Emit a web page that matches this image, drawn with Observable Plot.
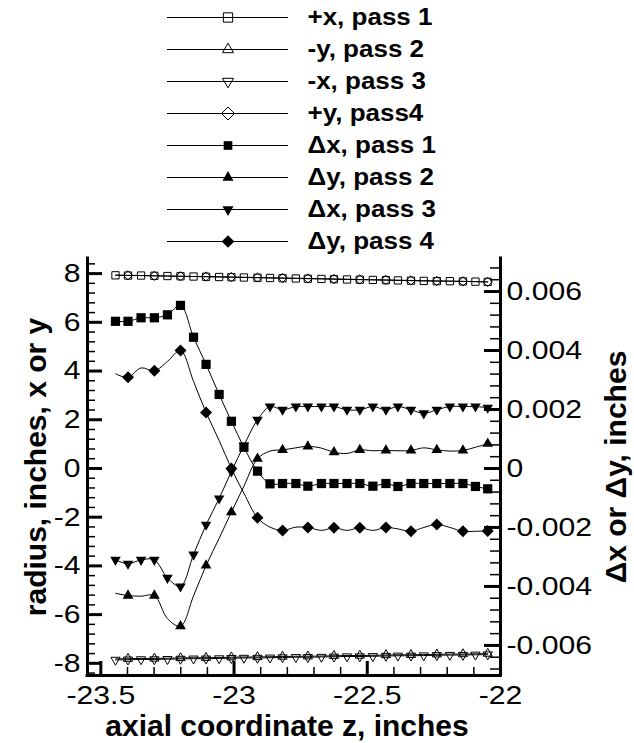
<!DOCTYPE html>
<html>
<head>
<meta charset="utf-8">
<script src="https://cdn.jsdelivr.net/npm/d3@7"></script>
<script src="https://cdn.jsdelivr.net/npm/@observablehq/plot@0.6"></script>
<style>
  html, body { margin: 0; padding: 0; background: #fff; }
  #chart { width: 634px; height: 743px; position: relative; background: #fff; }
  #chart svg { display: block; }
</style>
</head>
<body>
<div id="chart"></div>
<script>
// Axial stations (inches)
const z = [-23.445, -23.398, -23.349, -23.299, -23.250, -23.201, -23.152, -23.105, -23.056, -23.010,
           -22.963, -22.912, -22.865, -22.818, -22.768, -22.723, -22.672, -22.625, -22.576, -22.528,
           -22.479, -22.430, -22.385, -22.336, -22.288, -22.239, -22.190, -22.141, -22.094, -22.048];

// Measured radius (inches), left axis
const plusX1 = [7.93, 7.92, 7.92, 7.91, 7.90, 7.89, 7.88, 7.87, 7.86, 7.85,
                7.84, 7.83, 7.82, 7.81, 7.80, 7.79, 7.78, 7.77, 7.76, 7.75,
                7.74, 7.73, 7.72, 7.71, 7.70, 7.69, 7.69, 7.68, 7.67, 7.66];
const minusY2 = [-7.82, -7.81, -7.80, -7.80, -7.79, -7.78, -7.77, -7.77, -7.76, -7.75,
                 -7.74, -7.74, -7.73, -7.72, -7.71, -7.71, -7.70, -7.69, -7.68, -7.68,
                 -7.67, -7.66, -7.65, -7.65, -7.64, -7.63, -7.62, -7.62, -7.61, -7.60];
const minusX3 = [-7.86, -7.85, -7.84, -7.84, -7.83, -7.82, -7.81, -7.81, -7.80, -7.79,
                 -7.78, -7.78, -7.77, -7.76, -7.75, -7.75, -7.74, -7.73, -7.72, -7.72,
                 -7.71, -7.70, -7.69, -7.69, -7.68, -7.67, -7.66, -7.66, -7.65, -7.64];
const plusY4 = [7.94, 7.93, 7.92, 7.91, 7.90, 7.89, 7.88, 7.88, 7.87, 7.86,
                7.85, 7.84, 7.83, 7.82, 7.81, 7.80, 7.79, 7.78, 7.77, 7.76,
                7.75, 7.74, 7.73, 7.72, 7.71, 7.70, 7.69, 7.68, 7.67, 7.66];

// Deviations (inches), right axis
const dx1 = [0.00499, 0.00499, 0.00511, 0.00511, 0.00521, 0.00553, 0.00445, 0.00353, 0.00251, 0.00160,
             0.00072, -0.00009, -0.00052, -0.00051, -0.00051, -0.00060, -0.00051, -0.00051, -0.00051, -0.00051,
             -0.00060, -0.00051, -0.00061, -0.00051, -0.00051, -0.00051, -0.00051, -0.00051, -0.00061, -0.00069];
const dy2 = [-0.00423, -0.00431, -0.00433, -0.00431, -0.00509, -0.00535, -0.00432, -0.00329, -0.00237, -0.00148,
             -0.00060, 0.00033, 0.00059, 0.00063, 0.00070, 0.00075, 0.00069, 0.00055, 0.00051, 0.00063,
             0.00060, 0.00061, 0.00060, 0.00061, 0.00070, 0.00063, 0.00059, 0.00061, 0.00072, 0.00084];
const dx3 = [-0.00310, -0.00323, -0.00310, -0.00310, -0.00371, -0.00400, -0.00292, -0.00191, -0.00102, -0.00010,
             0.00078, 0.00165, 0.00210, 0.00199, 0.00210, 0.00210, 0.00210, 0.00210, 0.00199, 0.00199,
             0.00210, 0.00199, 0.00210, 0.00199, 0.00187, 0.00199, 0.00210, 0.00210, 0.00210, 0.00206];
const dy4 = [0.00321, 0.00309, 0.00341, 0.00331, 0.00363, 0.00400, 0.00295, 0.00190, 0.00095, 0.00000,
             -0.00084, -0.00167, -0.00199, -0.00210, -0.00199, -0.00200, -0.00210, -0.00201, -0.00210, -0.00201,
             -0.00210, -0.00200, -0.00205, -0.00213, -0.00200, -0.00190, -0.00200, -0.00213, -0.00213, -0.00212];

const names = ["+x, pass 1", "-y, pass 2", "-x, pass 3", "+y, pass4",
               "\u0394x, pass 1", "\u0394y, pass 2", "\u0394x, pass 3", "\u0394y, pass 4"];

// Tick values
const xMajor = [-23.5, -23, -22.5, -22];
const leftMajor = [-8, -6, -4, -2, 0, 2, 4, 6, 8];
const rightMajor = [-0.006, -0.004, -0.002, 0, 0.002, 0.004, 0.006];

// Downward-pointing triangle, mirror of d3.symbolTriangle
const triangleDown = {
  draw(context, size) {
    const y = -Math.sqrt(size / (Math.sqrt(3) * 3));
    context.moveTo(0, -y * 2);
    context.lineTo(-Math.sqrt(3) * y, y);
    context.lineTo(Math.sqrt(3) * y, y);
    context.closePath();
  }
};

// Scale extents: left axis in inches of radius, right axis in inches of deviation
const xDomain = [-23.55, -22];
const yDomain = [-8.5, 8.62];
const rDomain = [-0.00702, 0.00712];
const toLeft = (d) => yDomain[0] + (d - rDomain[0]) / (rDomain[1] - rDomain[0]) * (yDomain[1] - yDomain[0]);

const series = [
  {name: names[0], values: plusX1, axis: "left",  symbol: "square",   filled: false, every: 1, r: 4.1, lr: 5.25},
  {name: names[1], values: minusY2, axis: "left", symbol: "triangle", filled: false, every: 2, r: 3.4, lr: 4.1},
  {name: names[2], values: minusX3, axis: "left", symbol: triangleDown, filled: false, every: 1, r: 3.4, lr: 4.1},
  {name: names[3], values: plusY4, axis: "left",  symbol: "diamond2", filled: false, every: 2, r: 4.2, lr: 5.85},
  {name: names[4], values: dx1, axis: "right",    symbol: "square",   filled: true,  every: 1, r: 5.2, lr: 4.9},
  {name: names[5], values: dy2, axis: "right",    symbol: "triangle", filled: true,  every: 2, r: 4.0, lr: 4.1},
  {name: names[6], values: dx3, axis: "right",    symbol: triangleDown, filled: true, every: 1, r: 3.9, lr: 4.1},
  {name: names[7], values: dy4, axis: "right",    symbol: "diamond2", filled: true,  every: 2, r: 5.4, lr: 5.7}
];

const font = "'Liberation Sans', Arial, Helvetica, sans-serif";

function dotStyle(s, r) {
  return s.filled
    ? {symbol: s.symbol, r, fill: "black", stroke: "none"}
    : {symbol: s.symbol, r, fill: "none", stroke: "black", strokeWidth: 1};
}

// Widen glyphs of the given text groups horizontally about each text's anchor
function widen(svg, fontSize, k) {
  svg.querySelectorAll(`g[font-size="${fontSize}"] text`).forEach((t) => {
    const tr = t.getAttribute("transform") || "";
    t.setAttribute("transform", `${tr} scale(${k},1)`);
  });
}

// ---- Legend ----
const legend = Plot.plot({
  width: 634, height: 255, margin: 0,
  style: {fontFamily: font, background: "white", overflow: "visible"},
  x: {domain: [0, 1], range: [167, 288], axis: null},
  y: {type: "point", domain: names, range: [16, 242], padding: 0, axis: null},
  marks: [
    Plot.ruleY(series, {y: "name", x1: 0, x2: 1, stroke: "black", strokeWidth: 1}),
    ...series.map((s) => Plot.dot([s], {x: () => 0.5, y: "name", ...dotStyle(s, s.lr)})),
    Plot.text(series, {x: () => 1, y: "name", text: "name", textAnchor: "start", lineAnchor: "middle",
                       dx: 19, fontSize: 23, fontWeight: "bold", fill: "black"})
  ]
});
widen(legend, 23, 1.13);

// ---- Main chart ----
const W = 634, H = 488;
const mL = 87, mR = 134, mT = 3, mB = 68;
const plotW = W - mL - mR, plotH = H - mT - mB;

const seriesMarks = series.flatMap((s) => {
  const rows = s.values.map((v, i) => ({z: z[i], y: s.axis === "right" ? toLeft(v) : v, i}));
  const marked = rows.filter((d) => d.i % s.every === (s.every === 2 ? 1 : 0));
  return [
    Plot.line(rows, {x: "z", y: "y", curve: "catmull-rom", stroke: "black", strokeWidth: 1}),
    Plot.dot(marked, {x: "z", y: "y", ...dotStyle(s, s.r)})
  ];
});

const chart = Plot.plot({
  width: W, height: H,
  marginLeft: mL, marginRight: mR, marginTop: mT, marginBottom: mB,
  style: {fontFamily: font, background: "white", overflow: "visible", color: "black"},
  x: {domain: xDomain, axis: null},
  y: {domain: yDomain, axis: null},
  marks: [
    ...seriesMarks,
    // axis lines
    Plot.ruleX([xDomain[0]], {stroke: "black", strokeWidth: 3, strokeLinecap: "square"}),
    Plot.ruleX([xDomain[1]], {stroke: "black", strokeWidth: 3, strokeLinecap: "square"}),
    Plot.ruleY([yDomain[0]], {stroke: "black", strokeWidth: 3, strokeLinecap: "square"}),
    // left ticks (inward)
    Plot.tickY(leftMajor, {y: (d) => d, insetRight: plotW - 15, stroke: "black", strokeWidth: 3}),
    Plot.tickY(d3.range(-8.4, 8.6, 0.4).filter((v) => Math.abs(v / 2 - Math.round(v / 2)) > 0.01),
               {y: (d) => d, insetRight: plotW - 8, stroke: "black", strokeWidth: 1.5}),
    // right ticks (inward)
    Plot.tickY(rightMajor, {y: toLeft, insetLeft: plotW - 16, stroke: "black", strokeWidth: 3}),
    Plot.tickY(d3.range(-6.8, 7.0, 0.4).map((v) => v / 1000)
                 .filter((v) => Math.abs(v / 0.002 - Math.round(v / 0.002)) > 0.01),
               {y: toLeft, insetLeft: plotW - 10, stroke: "black", strokeWidth: 1.5}),
    // bottom ticks (inward)
    Plot.tickX(xMajor, {x: (d) => d, insetTop: plotH - 14, stroke: "black", strokeWidth: 3}),
    Plot.tickX(d3.range(-23.5, -22, 0.1).filter((v) => Math.abs(v * 2 - Math.round(v * 2)) > 0.01),
               {x: (d) => d, insetTop: plotH - 8, stroke: "black", strokeWidth: 1.5}),
    // tick labels
    Plot.text(leftMajor, {y: (d) => d, text: (d) => String(d), frameAnchor: "left", textAnchor: "end",
                          lineAnchor: "middle", dx: -7, fontSize: 26, fill: "black"}),
    Plot.text(rightMajor, {y: toLeft, text: (d) => (d === 0 ? "0" : d.toFixed(3)), frameAnchor: "right",
                           textAnchor: "start", lineAnchor: "middle", dx: 6, fontSize: 26, fill: "black"}),
    Plot.text(xMajor, {x: (d) => d, text: (d) => String(d), frameAnchor: "bottom", lineAnchor: "bottom",
                       dy: 28, fontSize: 26, fill: "black"}),
    // axis titles
    Plot.text(["axial coordinate z, inches"], {text: (d) => d, frameAnchor: "bottom", textAnchor: "middle",
                                               lineAnchor: "bottom", dy: 60, dx: -7,
                                               fontSize: 30, fontWeight: "bold", fill: "black"}),
    Plot.text(["radius, inches, x or y"], {text: (d) => d, frameAnchor: "left", textAnchor: "middle", rotate: -90,
                                           lineAnchor: "bottom", dx: -42,
                                           fontSize: 30, fontWeight: "bold", fill: "black"}),
    Plot.text(["\u0394x or \u0394y, inches"], {text: (d) => d, frameAnchor: "right", textAnchor: "middle", rotate: -90,
                                               lineAnchor: "bottom", dx: 125,
                                               fontSize: 30, fontWeight: "bold", fill: "black"})
  ]
});
widen(chart, 26, 1.16);

const root = document.getElementById("chart");
root.appendChild(legend);
root.appendChild(chart);
</script>
</body>
</html>
